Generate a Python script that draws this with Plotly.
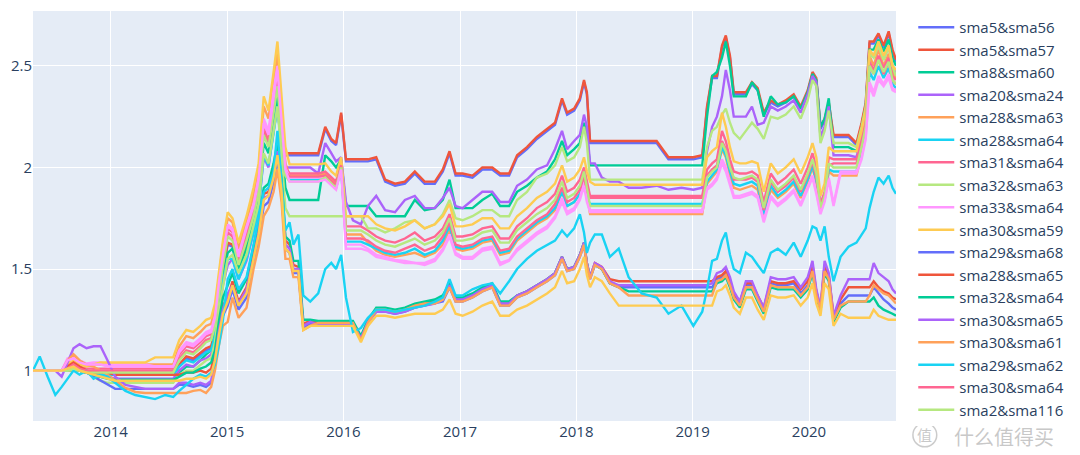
import plotly.graph_objects as go

dates = [
    "2013-05-02","2013-05-23","2013-06-17","2013-07-11","2013-07-31","2013-08-18","2013-09-06","2013-09-25","2013-10-17","2013-11-08","2013-11-30","2013-12-22","2014-01-15","2014-02-16","2014-03-19","2014-04-19","2014-05-20","2014-06-21","2014-07-16","2014-08-04","2014-08-26","2014-09-17","2014-10-09","2014-10-27","2014-11-12",
    "2014-11-24","2014-12-07","2014-12-19","2015-01-03","2015-01-18","2015-02-06","2015-03-03","2015-03-25","2015-04-10","2015-04-26","2015-05-11","2015-05-27","2015-06-08","2015-06-21","2015-07-03","2015-07-16","2015-07-28","2015-08-13","2015-08-28","2015-09-19",
    "2015-10-14","2015-11-05","2015-11-24","2015-12-09","2015-12-25","2016-01-09","2016-01-31","2016-02-25","2016-03-18","2016-04-13","2016-05-11","2016-06-11","2016-07-12","2016-08-12","2016-09-12","2016-10-14","2016-11-08","2016-11-29","2016-12-18",
    "2017-01-09","2017-02-09","2017-03-12","2017-04-12","2017-05-07","2017-06-04","2017-06-29","2017-07-30","2017-08-30","2017-10-01","2017-10-26","2017-11-17","2017-12-03","2017-12-25","2018-01-12","2018-01-25","2018-02-03","2018-02-13","2018-02-28","2018-03-22",
    "2018-04-16","2018-05-14","2018-06-14","2018-07-25","2018-09-10","2018-10-17","2018-11-27","2019-01-03","2019-01-31","2019-02-15","2019-03-03","2019-03-18","2019-04-03","2019-04-15","2019-04-28","2019-05-10","2019-05-29","2019-06-17","2019-07-06",
    "2019-07-24","2019-08-12","2019-09-03","2019-09-25","2019-10-20","2019-11-14","2019-12-06","2019-12-28","2020-01-12","2020-01-24","2020-02-06","2020-02-19","2020-03-03","2020-03-18","2020-04-09","2020-05-04","2020-05-29","2020-06-14","2020-06-27","2020-07-09","2020-07-22","2020-08-06","2020-08-22","2020-09-07","2020-09-19","2020-09-30",
]

sma5_sma56 = [
    1.00,1.00,1.00,1.00,1.00,1.00,1.00,1.00,0.99,0.99,0.98,0.98,0.98,0.98,0.98,0.98,0.98,0.98,0.98,1.02,1.06,1.05,1.08,1.10,1.11,
    1.19,1.35,1.49,1.62,1.61,1.51,1.62,1.76,1.89,2.17,2.12,2.29,2.44,2.21,2.06,2.06,2.06,2.06,2.06,2.06,
    2.06,2.19,2.13,2.11,2.26,2.03,2.03,2.03,2.03,2.04,1.93,1.91,1.92,1.97,1.92,1.92,1.98,2.07,1.96,
    1.96,1.95,1.99,1.99,1.96,1.96,2.05,2.09,2.14,2.18,2.21,2.33,2.26,2.28,2.33,2.42,2.36,2.12,2.12,2.12,
    2.12,2.12,2.12,2.12,2.12,2.04,2.04,2.04,2.05,2.29,2.44,2.44,2.59,2.64,2.54,2.36,2.36,2.36,2.41,
    2.38,2.26,2.32,2.30,2.32,2.35,2.29,2.37,2.46,2.43,2.19,2.23,2.31,2.15,2.15,2.15,2.11,2.21,2.31,2.61,2.61,2.65,2.59,2.66,2.57,2.52,
]
sma5_sma57 = [
    1.00,1.00,1.00,1.00,1.00,1.00,1.00,1.00,0.99,1.00,0.99,0.99,0.99,0.99,0.99,0.99,0.99,0.99,0.99,1.03,1.07,1.06,1.09,1.11,1.12,
    1.20,1.36,1.50,1.63,1.62,1.52,1.63,1.77,1.90,2.18,2.13,2.30,2.45,2.22,2.07,2.07,2.07,2.07,2.07,2.07,
    2.07,2.20,2.14,2.12,2.27,2.04,2.04,2.04,2.04,2.05,1.94,1.92,1.93,1.98,1.93,1.93,1.99,2.08,1.97,
    1.97,1.96,2.00,2.00,1.97,1.97,2.06,2.10,2.15,2.19,2.22,2.34,2.27,2.29,2.34,2.43,2.37,2.13,2.13,2.13,
    2.13,2.13,2.13,2.13,2.13,2.05,2.05,2.05,2.06,2.30,2.45,2.45,2.60,2.65,2.55,2.37,2.37,2.37,2.42,
    2.39,2.27,2.33,2.31,2.33,2.36,2.30,2.38,2.47,2.44,2.20,2.24,2.32,2.16,2.16,2.16,2.12,2.22,2.32,2.62,2.62,2.66,2.60,2.67,2.58,2.53,
]
sma8_sma60 = [
    1.00,1.00,1.00,1.00,1.00,1.01,1.02,1.00,0.99,0.98,0.97,0.965,0.955,0.955,0.955,0.955,0.955,0.955,0.955,0.99,1.02,1.02,1.05,1.08,1.10,
    1.18,1.34,1.46,1.58,1.60,1.50,1.60,1.74,1.86,2.12,2.07,2.24,2.35,2.12,1.90,1.84,1.84,1.84,1.84,1.84,
    1.84,2.06,2.03,2.00,2.04,1.81,1.81,1.81,1.81,1.76,1.76,1.76,1.76,1.84,1.79,1.80,1.84,1.94,1.80,
    1.80,1.80,1.84,1.87,1.81,1.81,1.88,1.91,1.95,1.98,2.04,2.13,2.06,2.09,2.12,2.22,2.16,2.01,2.01,2.01,
    2.01,2.01,2.01,2.01,2.01,2.01,2.01,2.01,2.01,2.25,2.45,2.47,2.54,2.62,2.50,2.35,2.35,2.35,2.42,
    2.38,2.25,2.35,2.31,2.32,2.35,2.29,2.37,2.46,2.43,2.20,2.24,2.34,2.10,2.10,2.10,2.08,2.18,2.30,2.58,2.58,2.63,2.57,2.63,2.54,2.50,
]
sma20_sma24 = [
    1.00,1.00,1.00,1.00,1.00,1.02,1.04,1.02,1.00,0.99,0.98,0.97,0.96,0.96,0.96,0.96,0.96,0.96,0.96,1.00,1.03,1.02,1.05,1.06,1.08,
    1.15,1.30,1.42,1.52,1.55,1.45,1.54,1.68,1.80,2.05,2.00,2.18,2.30,2.10,2.00,2.00,2.00,2.00,2.00,2.00,
    1.97,2.12,2.07,2.03,2.05,1.83,1.74,1.72,1.81,1.86,1.79,1.78,1.84,1.86,1.80,1.80,1.85,1.90,1.81,
    1.80,1.84,1.88,1.88,1.83,1.83,1.91,1.94,1.99,2.01,2.09,2.18,2.09,2.13,2.16,2.26,2.20,2.02,2.02,1.95,
    1.93,1.93,1.90,1.90,1.91,1.89,1.90,1.89,1.90,2.08,2.20,2.25,2.35,2.48,2.38,2.25,2.25,2.25,2.30,
    2.21,2.22,2.30,2.28,2.30,2.33,2.27,2.36,2.45,2.42,2.15,2.20,2.30,2.06,2.06,2.06,2.05,2.15,2.28,2.55,2.55,2.60,2.53,2.60,2.50,2.46,
]
sma28_sma63 = [
    1.00,1.00,1.00,1.00,1.00,1.04,1.08,1.05,1.03,1.03,1.03,1.03,1.03,1.03,1.03,1.03,1.03,1.03,1.03,1.12,1.17,1.16,1.19,1.22,1.23,
    1.30,1.48,1.62,1.75,1.73,1.60,1.74,1.86,1.99,2.30,2.24,2.42,2.56,2.30,2.02,1.96,1.96,1.96,1.96,1.96,
    1.96,1.97,1.94,1.92,2.02,1.67,1.67,1.67,1.63,1.59,1.57,1.56,1.57,1.58,1.56,1.58,1.62,1.69,1.60,
    1.59,1.60,1.63,1.64,1.57,1.58,1.64,1.68,1.72,1.75,1.79,1.88,1.81,1.83,1.87,1.96,1.86,1.77,1.77,1.77,
    1.77,1.77,1.77,1.77,1.77,1.77,1.77,1.77,1.77,1.92,1.95,1.98,2.09,2.05,1.96,1.90,1.89,1.90,1.91,
    1.89,1.76,1.89,1.85,1.88,1.92,1.85,1.93,2.00,1.92,1.79,1.85,1.98,1.96,1.96,1.96,1.96,2.07,2.17,2.55,2.50,2.58,2.50,2.56,2.47,2.44,
]
sma28_sma64 = [
    1.00,1.00,1.00,1.00,1.00,1.00,1.02,1.00,0.99,0.99,0.98,0.98,0.98,0.98,0.98,0.98,0.98,0.98,0.98,1.02,1.05,1.04,1.07,1.09,1.10,
    1.17,1.32,1.44,1.55,1.55,1.45,1.55,1.68,1.80,2.06,2.01,2.17,2.30,2.08,1.96,1.94,1.94,1.94,1.94,1.94,
    1.94,1.95,1.92,1.90,1.99,1.635,1.635,1.635,1.62,1.60,1.58,1.57,1.58,1.60,1.57,1.59,1.64,1.71,1.61,
    1.60,1.61,1.64,1.65,1.58,1.59,1.65,1.69,1.73,1.76,1.80,1.88,1.81,1.83,1.87,1.93,1.85,1.82,1.82,1.82,
    1.82,1.82,1.82,1.82,1.82,1.82,1.82,1.82,1.82,1.93,1.96,1.99,2.10,2.06,1.98,1.92,1.91,1.92,1.93,
    1.91,1.77,1.91,1.86,1.89,1.93,1.86,1.94,2.01,1.93,1.79,1.84,1.99,1.98,1.98,1.98,1.98,2.08,2.18,2.47,2.43,2.50,2.44,2.49,2.41,2.39,
]
sma31_sma64 = [
    1.00,1.00,1.00,1.00,1.00,1.02,1.04,1.02,1.01,1.01,1.01,1.01,1.01,1.01,1.01,1.01,1.01,1.01,1.01,1.08,1.12,1.11,1.14,1.17,1.18,
    1.25,1.42,1.55,1.70,1.68,1.56,1.68,1.80,1.93,2.22,2.16,2.34,2.47,2.22,2.00,1.97,1.97,1.97,1.97,1.97,
    1.97,1.98,1.95,1.93,2.03,1.71,1.71,1.71,1.69,1.66,1.64,1.63,1.65,1.68,1.64,1.66,1.70,1.77,1.66,
    1.66,1.67,1.70,1.71,1.65,1.65,1.71,1.75,1.80,1.83,1.87,1.96,1.88,1.90,1.94,2.00,1.93,1.86,1.86,1.86,
    1.86,1.86,1.86,1.86,1.86,1.86,1.86,1.86,1.86,1.99,2.02,2.04,2.18,2.13,2.04,1.98,1.97,1.97,1.98,
    1.96,1.83,1.97,1.92,1.95,1.99,1.92,2.00,2.07,2.00,1.82,1.88,2.05,2.04,2.04,2.04,2.04,2.13,2.23,2.52,2.48,2.55,2.49,2.54,2.45,2.43,
]
sma32_sma63 = [
    1.00,1.00,1.00,1.00,1.00,1.00,1.00,1.00,1.00,0.97,0.95,0.94,0.94,0.94,0.94,0.94,0.94,0.94,0.94,0.98,1.00,1.00,1.03,1.05,1.06,
    1.14,1.30,1.42,1.55,1.57,1.48,1.57,1.71,1.82,2.07,2.02,2.18,2.30,2.05,1.80,1.76,1.76,1.76,1.76,1.76,
    1.76,1.76,1.76,1.76,1.76,1.76,1.76,1.76,1.70,1.70,1.68,1.70,1.73,1.74,1.70,1.72,1.77,1.84,1.75,
    1.74,1.76,1.79,1.79,1.76,1.76,1.84,1.88,1.95,1.97,2.01,2.10,2.03,2.05,2.10,2.20,2.12,1.94,1.94,1.94,
    1.94,1.94,1.94,1.94,1.94,1.94,1.94,1.94,1.94,2.10,2.18,2.20,2.26,2.29,2.22,2.17,2.14,2.18,2.22,
    2.19,2.14,2.25,2.24,2.26,2.30,2.24,2.33,2.43,2.40,2.12,2.18,2.28,2.12,2.12,2.12,2.10,2.20,2.30,2.56,2.54,2.60,2.53,2.59,2.50,2.45,
]
sma33_sma64 = [
    1.00,1.00,1.00,1.00,1.00,1.06,1.07,1.05,1.035,1.04,1.04,1.03,1.03,1.03,1.03,1.03,1.02,1.02,1.02,1.10,1.14,1.13,1.16,1.19,1.20,
    1.27,1.45,1.58,1.72,1.70,1.57,1.71,1.82,1.95,2.24,2.18,2.38,2.50,2.25,2.00,1.95,1.95,1.95,1.95,1.95,
    1.95,1.95,1.92,1.90,2.00,1.62,1.62,1.62,1.60,1.57,1.56,1.545,1.54,1.53,1.53,1.55,1.60,1.67,1.58,
    1.56,1.56,1.60,1.61,1.53,1.545,1.60,1.64,1.68,1.71,1.76,1.85,1.78,1.80,1.85,1.93,1.84,1.79,1.79,1.79,
    1.79,1.79,1.79,1.79,1.79,1.79,1.79,1.79,1.79,1.90,1.92,1.95,2.04,2.00,1.92,1.86,1.86,1.87,1.88,
    1.86,1.74,1.86,1.82,1.85,1.89,1.82,1.90,1.96,1.88,1.78,1.84,1.95,1.82,1.98,1.98,1.98,2.05,2.15,2.40,2.35,2.43,2.40,2.44,2.38,2.37,
]
sma30_sma59 = [
    1.00,1.00,1.00,1.00,1.00,1.03,1.05,1.03,1.02,1.03,1.04,1.04,1.04,1.04,1.04,1.04,1.065,1.065,1.065,1.15,1.20,1.19,1.22,1.25,1.26,
    1.33,1.50,1.64,1.78,1.75,1.63,1.76,1.90,2.02,2.35,2.28,2.47,2.62,2.35,2.10,2.015,2.015,2.015,2.015,2.015,
    2.015,2.02,1.98,1.96,2.05,1.76,1.76,1.76,1.76,1.72,1.70,1.69,1.71,1.74,1.70,1.72,1.76,1.82,1.71,
    1.71,1.72,1.75,1.75,1.70,1.70,1.76,1.80,1.85,1.88,1.92,2.01,1.93,1.95,1.99,2.05,1.98,1.93,1.915,1.915,
    1.915,1.915,1.915,1.915,1.915,1.915,1.915,1.915,1.915,2.05,2.08,2.10,2.27,2.20,2.10,2.03,2.02,2.02,2.03,
    2.02,1.88,2.02,1.97,2.00,2.04,1.97,2.05,2.12,2.05,1.86,1.92,2.10,2.08,2.08,2.08,2.08,2.18,2.28,2.58,2.55,2.62,2.55,2.60,2.50,2.48,
]
sma29_sma68 = [
    1.00,1.00,1.00,1.00,1.00,1.01,1.03,1.01,0.99,0.97,0.95,0.93,0.91,0.91,0.91,0.91,0.91,0.91,0.91,0.93,0.93,0.92,0.93,0.92,0.94,
    1.03,1.17,1.27,1.32,1.40,1.30,1.36,1.53,1.65,1.81,1.83,1.93,2.04,1.87,1.60,1.58,1.48,1.48,1.21,1.23,
    1.23,1.23,1.23,1.23,1.23,1.23,1.23,1.15,1.235,1.29,1.29,1.28,1.29,1.31,1.32,1.33,1.34,1.41,1.34,
    1.34,1.36,1.39,1.41,1.32,1.32,1.36,1.38,1.41,1.44,1.47,1.55,1.49,1.50,1.56,1.62,1.52,1.45,1.52,1.50,
    1.43,1.41,1.41,1.41,1.41,1.41,1.41,1.41,1.41,1.41,1.41,1.45,1.46,1.48,1.43,1.37,1.33,1.42,1.42,
    1.36,1.30,1.43,1.42,1.42,1.43,1.38,1.42,1.50,1.38,1.30,1.50,1.46,1.26,1.33,1.37,1.37,1.37,1.37,1.37,1.41,1.38,1.35,1.33,1.31,1.30,
]
sma28_sma65 = [
    1.00,1.00,1.00,1.00,1.00,1.02,1.04,1.02,1.00,0.99,0.99,0.99,0.98,0.98,0.98,0.98,0.98,0.98,0.98,0.98,0.99,0.99,1.00,0.99,1.01,
    1.08,1.22,1.32,1.36,1.44,1.34,1.41,1.57,1.70,1.87,1.88,1.99,2.10,1.92,1.64,1.62,1.52,1.51,1.23,1.245,
    1.235,1.235,1.235,1.235,1.235,1.235,1.235,1.16,1.24,1.30,1.30,1.29,1.30,1.32,1.33,1.34,1.36,1.42,1.35,
    1.35,1.37,1.40,1.42,1.33,1.33,1.37,1.39,1.42,1.45,1.48,1.56,1.50,1.51,1.57,1.63,1.53,1.46,1.53,1.51,
    1.45,1.44,1.44,1.44,1.44,1.44,1.44,1.44,1.44,1.44,1.44,1.46,1.47,1.49,1.44,1.38,1.34,1.43,1.43,
    1.37,1.31,1.44,1.43,1.43,1.44,1.40,1.44,1.52,1.39,1.31,1.52,1.47,1.27,1.35,1.41,1.41,1.41,1.41,1.41,1.44,1.41,1.39,1.38,1.36,1.35,
]
sma32_sma64 = [
    1.00,1.00,1.00,1.00,1.00,1.01,1.02,1.00,0.99,0.98,0.97,0.96,0.955,0.955,0.955,0.955,0.955,0.955,0.955,0.97,0.99,0.99,1.01,1.02,1.04,
    1.10,1.25,1.36,1.42,1.48,1.38,1.45,1.61,1.73,1.90,1.92,2.02,2.12,1.94,1.66,1.64,1.54,1.54,1.25,1.25,
    1.245,1.245,1.245,1.245,1.245,1.245,1.245,1.17,1.25,1.31,1.31,1.30,1.31,1.33,1.34,1.35,1.37,1.43,1.36,
    1.36,1.38,1.41,1.43,1.34,1.34,1.37,1.39,1.42,1.45,1.48,1.56,1.50,1.51,1.57,1.63,1.53,1.46,1.52,1.50,
    1.43,1.41,1.39,1.39,1.39,1.39,1.39,1.39,1.39,1.39,1.39,1.43,1.44,1.46,1.41,1.35,1.31,1.40,1.40,
    1.34,1.28,1.41,1.40,1.40,1.40,1.36,1.40,1.48,1.36,1.29,1.48,1.44,1.24,1.31,1.34,1.34,1.34,1.34,1.34,1.36,1.32,1.30,1.29,1.28,1.27,
]
sma30_sma65 = [
    1.00,1.00,1.00,1.00,0.97,1.04,1.11,1.13,1.11,1.12,1.12,1.05,0.97,0.93,0.92,0.91,0.91,0.91,0.91,0.94,0.94,0.93,0.94,0.93,0.95,
    1.05,1.20,1.30,1.38,1.42,1.33,1.40,1.55,1.68,1.85,1.86,1.97,2.08,1.90,1.62,1.60,1.50,1.50,1.22,1.24,
    1.225,1.225,1.225,1.225,1.225,1.225,1.225,1.16,1.24,1.29,1.29,1.28,1.29,1.31,1.32,1.33,1.35,1.42,1.35,
    1.35,1.37,1.40,1.42,1.33,1.33,1.37,1.39,1.42,1.45,1.48,1.56,1.50,1.51,1.57,1.63,1.53,1.46,1.53,1.51,
    1.44,1.42,1.42,1.42,1.42,1.42,1.42,1.42,1.42,1.42,1.43,1.48,1.49,1.51,1.46,1.39,1.34,1.44,1.44,
    1.37,1.31,1.46,1.45,1.45,1.46,1.41,1.46,1.54,1.40,1.31,1.54,1.48,1.27,1.37,1.45,1.45,1.45,1.45,1.45,1.53,1.48,1.46,1.44,1.40,1.38,
]
sma30_sma61 = [
    1.00,1.00,1.00,1.00,1.00,1.05,1.08,1.05,1.03,1.02,1.00,0.98,0.95,0.915,0.895,0.89,0.89,0.89,0.89,0.89,0.89,0.90,0.905,0.89,0.92,
    1.00,1.13,1.22,1.24,1.36,1.26,1.31,1.50,1.61,1.76,1.80,1.88,1.99,1.83,1.55,1.55,1.46,1.46,1.20,1.22,
    1.235,1.235,1.235,1.235,1.235,1.235,1.235,1.15,1.235,1.30,1.30,1.29,1.30,1.32,1.33,1.33,1.35,1.41,1.34,
    1.34,1.36,1.39,1.41,1.32,1.32,1.36,1.38,1.41,1.44,1.47,1.55,1.49,1.50,1.56,1.62,1.52,1.45,1.52,1.50,
    1.43,1.41,1.37,1.37,1.37,1.37,1.37,1.37,1.37,1.37,1.37,1.44,1.45,1.47,1.42,1.36,1.32,1.41,1.41,
    1.35,1.29,1.42,1.41,1.41,1.41,1.37,1.41,1.49,1.37,1.30,1.49,1.45,1.25,1.32,1.34,1.34,1.34,1.34,1.37,1.42,1.40,1.38,1.37,1.35,1.33,
]
sma29_sma62 = [
    1.00,1.07,0.97,0.88,0.92,0.96,1.00,0.98,1.00,0.96,0.98,0.97,0.94,0.90,0.88,0.87,0.86,0.88,0.87,0.90,0.93,0.96,0.98,0.97,0.99,
    1.03,1.13,1.25,1.45,1.50,1.40,1.46,1.62,1.76,1.88,1.90,1.98,2.18,1.93,1.69,1.73,1.62,1.67,1.37,1.34,
    1.38,1.50,1.53,1.50,1.57,1.36,1.19,1.21,1.26,1.30,1.30,1.29,1.30,1.31,1.32,1.34,1.36,1.45,1.37,
    1.37,1.40,1.42,1.43,1.38,1.44,1.50,1.55,1.59,1.62,1.64,1.69,1.66,1.70,1.77,1.68,1.58,1.63,1.67,1.67,
    1.56,1.60,1.46,1.38,1.36,1.28,1.32,1.22,1.29,1.40,1.54,1.55,1.64,1.68,1.57,1.50,1.48,1.58,1.56,
    1.52,1.48,1.58,1.60,1.57,1.63,1.56,1.64,1.71,1.70,1.64,1.71,1.56,1.44,1.56,1.61,1.63,1.67,1.70,1.80,1.88,1.95,1.92,1.96,1.90,1.87,
]
sma30_sma64 = [
    1.00,1.00,1.00,1.00,1.00,1.01,1.03,1.01,1.00,1.00,1.00,1.00,1.00,1.00,1.00,1.00,1.00,1.00,1.00,1.06,1.10,1.09,1.12,1.15,1.16,
    1.23,1.40,1.53,1.68,1.66,1.54,1.66,1.78,1.91,2.19,2.13,2.31,2.44,2.19,1.98,1.955,1.955,1.955,1.955,1.955,
    1.955,1.96,1.93,1.91,2.01,1.65,1.65,1.65,1.64,1.61,1.59,1.58,1.60,1.62,1.59,1.61,1.66,1.73,1.62,
    1.61,1.62,1.65,1.66,1.59,1.60,1.66,1.70,1.74,1.77,1.82,1.90,1.83,1.85,1.89,1.96,1.88,1.85,1.85,1.85,
    1.85,1.85,1.85,1.85,1.85,1.85,1.85,1.85,1.85,1.96,1.99,2.01,2.13,2.09,2.01,1.94,1.94,1.94,1.95,
    1.93,1.79,1.93,1.88,1.91,1.95,1.88,1.96,2.03,1.95,1.80,1.85,2.01,2.02,2.02,2.02,2.02,2.11,2.21,2.50,2.46,2.53,2.46,2.52,2.43,2.41,
]
sma2_sma116 = [
    1.00,1.00,1.00,1.00,1.00,1.00,1.01,1.00,0.99,0.99,0.99,0.99,0.99,0.99,0.99,0.99,0.99,0.99,0.99,1.05,1.09,1.08,1.11,1.14,1.15,
    1.22,1.38,1.52,1.66,1.64,1.52,1.64,1.76,1.88,2.16,2.10,2.27,2.40,2.16,1.96,1.93,1.93,1.93,1.93,1.93,
    1.93,1.95,1.92,1.90,2.00,1.69,1.69,1.69,1.67,1.64,1.62,1.61,1.63,1.65,1.62,1.64,1.68,1.75,1.64,
    1.64,1.65,1.68,1.69,1.63,1.63,1.69,1.73,1.77,1.80,1.84,1.93,1.85,1.87,1.91,1.98,1.90,1.81,1.81,1.81,
    1.81,1.81,1.81,1.81,1.81,1.81,1.81,1.81,1.81,1.95,1.98,2.00,2.12,2.08,2.00,1.95,1.94,1.95,1.96,
    1.94,1.80,1.94,1.89,1.92,1.96,1.89,1.97,2.04,1.97,1.80,1.86,2.02,2.00,2.00,2.00,2.00,2.10,2.20,2.50,2.46,2.53,2.47,2.52,2.43,2.41,
]
# two more curves visible in the plot whose legend entries are scrolled out of view
extra_curve_a = [
    1.00,1.00,1.00,1.00,1.00,1.05,1.06,1.04,1.03,1.03,1.03,1.02,1.02,1.02,1.02,1.02,1.02,1.02,1.02,1.09,1.13,1.12,1.15,1.18,1.19,
    1.26,1.44,1.57,1.71,1.69,1.56,1.70,1.81,1.94,2.22,2.16,2.35,2.48,2.23,1.99,1.93,1.93,1.93,1.93,1.93,
    1.93,1.94,1.91,1.89,1.99,1.60,1.60,1.60,1.59,1.56,1.55,1.54,1.53,1.53,1.52,1.54,1.59,1.66,1.57,
    1.55,1.55,1.59,1.60,1.52,1.54,1.59,1.63,1.67,1.70,1.75,1.83,1.77,1.79,1.84,1.91,1.83,1.78,1.78,1.78,
    1.78,1.78,1.78,1.78,1.78,1.78,1.78,1.78,1.78,1.89,1.91,1.94,2.02,1.98,1.91,1.85,1.85,1.86,1.87,
    1.85,1.73,1.85,1.81,1.84,1.88,1.81,1.89,1.95,1.87,1.77,1.83,1.94,1.81,1.97,1.97,1.97,2.04,2.14,2.42,2.37,2.45,2.41,2.46,2.39,2.38,
]
extra_curve_b = [
    1.00,1.00,1.00,1.00,1.00,1.01,1.02,1.00,0.99,0.98,0.97,0.96,0.95,0.95,0.95,0.95,0.95,0.95,0.95,0.95,0.96,0.96,0.97,0.96,0.98,
    1.05,1.18,1.28,1.34,1.42,1.32,1.38,1.55,1.67,1.84,1.86,1.95,2.06,1.88,1.60,1.58,1.49,1.49,1.20,1.22,
    1.22,1.22,1.22,1.22,1.22,1.22,1.22,1.14,1.22,1.27,1.27,1.26,1.27,1.28,1.28,1.28,1.30,1.35,1.28,
    1.27,1.29,1.32,1.34,1.27,1.27,1.30,1.32,1.35,1.38,1.41,1.49,1.43,1.44,1.50,1.56,1.47,1.41,1.46,1.44,
    1.38,1.32,1.32,1.32,1.32,1.32,1.32,1.32,1.32,1.32,1.32,1.39,1.40,1.42,1.37,1.31,1.28,1.36,1.36,
    1.30,1.25,1.37,1.36,1.36,1.37,1.32,1.36,1.43,1.33,1.27,1.43,1.40,1.22,1.28,1.26,1.26,1.26,1.26,1.26,1.30,1.27,1.26,1.25,1.25,1.25,
]

series_names = [
    "sma5&sma56", "sma5&sma57", "sma8&sma60", "sma20&sma24", "sma28&sma63",
    "sma28&sma64", "sma31&sma64", "sma32&sma63", "sma33&sma64", "sma30&sma59",
    "sma29&sma68", "sma28&sma65", "sma32&sma64", "sma30&sma65", "sma30&sma61",
    "sma29&sma62", "sma30&sma64", "sma2&sma116",
]
series_values = [
    sma5_sma56, sma5_sma57, sma8_sma60, sma20_sma24, sma28_sma63,
    sma28_sma64, sma31_sma64, sma32_sma63, sma33_sma64, sma30_sma59,
    sma29_sma68, sma28_sma65, sma32_sma64, sma30_sma65, sma30_sma61,
    sma29_sma62, sma30_sma64, sma2_sma116,
]
extra_values = [extra_curve_a, extra_curve_b]

for v in series_values + extra_values:
    assert len(v) == len(dates), (len(v), len(dates))

fig = go.Figure()
for name, vals in zip(series_names, series_values):
    fig.add_trace(go.Scatter(x=dates, y=vals, mode="lines", name=name,
                             line=dict(width=2.4)))
for vals in extra_values:
    fig.add_trace(go.Scatter(x=dates, y=vals, mode="lines", showlegend=False,
                             line=dict(width=2.4), hoverinfo="skip"))

fig.update_layout(
    template="plotly",
    width=1080, height=455,
    margin=dict(l=33, r=179, t=11, b=34),
    font=dict(family="Open Sans, Arial, sans-serif", size=15, color="#2a3f5f"),
    legend=dict(font=dict(size=15), tracegroupgap=0, itemwidth=36,
                x=1.02, xanchor="left", y=1, yanchor="top"),
    showlegend=True,
)
# let the legend use the full height so that it does not need a scrollbar
try:
    fig.update_layout(legend_maxheight=440)
except ValueError:
    pass

fig.update_xaxes(range=["2013-05-02", "2020-09-30"], dtick="M12", tickformat="%Y",
                 tick0="2014-01-01")
fig.update_yaxes(range=[0.752, 2.77], dtick=0.5, tick0=0)

# site watermark at the bottom right
fig.add_shape(type="circle", xref="paper", yref="paper",
              x0=1.0196, x1=1.0472, y0=-0.063, y1=-0.005,
              line=dict(color="rgba(190,190,190,0.8)", width=1.5))
fig.add_annotation(text="值", xref="paper", yref="paper", x=1.0334, y=-0.034,
                   showarrow=False, xanchor="center", yanchor="middle",
                   font=dict(family="Noto Sans CJK SC", size=15, color="rgba(190,190,190,0.85)"))
fig.add_annotation(text="什么值得买", xref="paper", yref="paper", x=1.1256, y=-0.037,
                   showarrow=False, xanchor="center", yanchor="middle",
                   font=dict(family="Noto Sans CJK SC", size=20, color="rgba(190,190,190,0.85)"))

fig.write_html("out.html", config={"displayModeBar": False},
               post_script="document.body.style.margin='0px';")
